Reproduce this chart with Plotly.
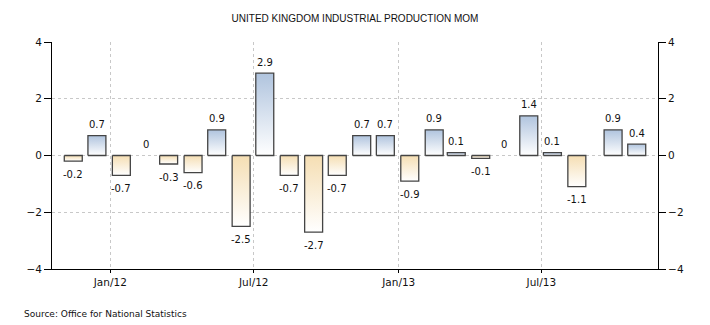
import plotly.graph_objects as go
import pandas as pd

# ---- data ----
dates = ["2011-11-15", "2011-12-15", "2012-01-15", "2012-02-15", "2012-03-15",
         "2012-04-15", "2012-05-15", "2012-06-15", "2012-07-15", "2012-08-15",
         "2012-09-15", "2012-10-15", "2012-11-15", "2012-12-15", "2013-01-15",
         "2013-02-15", "2013-03-15", "2013-04-15", "2013-05-15", "2013-06-15",
         "2013-07-15", "2013-08-15", "2013-09-30", "2013-10-30"]
values = [-0.2, 0.7, -0.7, 0, -0.3, -0.6, 0.9, -2.5, 2.9, -0.7, -2.7, -0.7,
          0.7, 0.7, -0.9, 0.9, 0.1, -0.1, 0, 1.4, 0.1, -1.1, 0.9, 0.4]
title_text = "UNITED KINGDOM INDUSTRIAL PRODUCTION MOM"
source_text = "Source: Office for National Statistics"
y_ticks = [-4, -2, 0, 2, 4]

# ---- style ----
POS_COLOR = "#b0c4de"
NEG_COLOR = "#f5deb3"
EDGE = "#444444"
GRID = "#c8c8c8"
FONT = "DejaVu Sans"
half_width = pd.Timedelta(days=11.4)

fig = go.Figure()

for d, v in zip(dates, values):
    if v == 0:
        continue
    c = pd.Timestamp(d)
    x0 = (c - half_width).strftime("%Y-%m-%d %H:%M")
    x1 = (c + half_width).strftime("%Y-%m-%d %H:%M")
    top = POS_COLOR if v > 0 else NEG_COLOR
    fig.add_trace(go.Scatter(
        x=[x0, x1, x1, x0, x0],
        y=[0, 0, v, v, 0],
        mode="lines",
        fill="toself",
        fillgradient=dict(type="vertical",
                          colorscale=[[0, "#ffffff"], [1, top]]),
        line=dict(color=EDGE, width=1.3),
        hoverinfo="skip",
        showlegend=False,
    ))

# invisible trace for right axis
fig.add_trace(go.Scatter(x=[dates[0]], y=[0], yaxis="y2", mode="markers",
                         marker=dict(opacity=0), showlegend=False,
                         hoverinfo="skip"))

for d, v in zip(dates, values):
    fig.add_annotation(
        x=d, y=v, xref="x", yref="y",
        text=f"{v:g}", showarrow=False,
        yshift=11 if v >= 0 else -13,
        font=dict(family=FONT, size=10, color="#111111"),
    )

fig.add_annotation(
    x=-0.0495, y=-0.197, xref="paper", yref="paper",
    text=source_text, showarrow=False, xanchor="left", yanchor="middle",
    font=dict(family=FONT, size=9, color="#111111"),
)

axis_font = dict(family=FONT, size=10.5, color="#111111")

fig.update_layout(
    width=710, height=325,
    margin=dict(l=52, r=52, t=42, b=56),
    paper_bgcolor="white", plot_bgcolor="white",
    title=dict(text=title_text, x=0.5, xanchor="center",
               y=1 - 18.5 / 325, yref="container", yanchor="middle",
               font=dict(family="Liberation Sans", size=10, color="#111111")),
    xaxis=dict(
        type="date",
        range=["2011-10-19", "2013-11-26"],
        tick0="2012-01-01", dtick="M6", tickformat="%b/%y",
        ticks="outside", ticklen=3, tickcolor="black",
        showline=True, linecolor="black", linewidth=1,
        showgrid=True, gridcolor=GRID, griddash="dot", gridwidth=1,
        tickfont=axis_font, zeroline=False,
    ),
    yaxis=dict(
        range=[-4, 4], tickvals=y_ticks,
        ticks="outside", ticklen=7, tickcolor="black",
        showline=True, linecolor="black", linewidth=1,
        showgrid=True, gridcolor=GRID, griddash="dot", gridwidth=1,
        zeroline=False, tickfont=axis_font,
    ),
    yaxis2=dict(
        range=[-4, 4], tickvals=y_ticks, overlaying="y", side="right",
        ticks="outside", ticklen=7, tickcolor="black",
        showline=True, linecolor="black", linewidth=1,
        showgrid=False, zeroline=False, tickfont=axis_font,
    ),
)

fig.write_html("out.html")
